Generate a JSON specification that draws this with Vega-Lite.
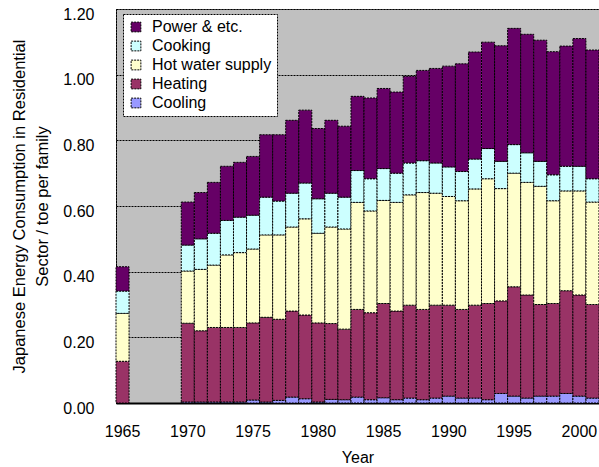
{
  "$schema": "https://vega.github.io/schema/vega-lite/v6.json",
  "width": 483,
  "height": 394,
  "autosize": "none",
  "padding": {"left": 116, "top": 9, "right": 0, "bottom": 64},
  "background": "white",
  "config": {
    "font": "Liberation Sans",
    "view": {"fill": "#C0C0C0", "stroke": "black", "strokeDash": [2, 1], "strokeWidth": 1},
    "axis": {"labelFont": "Liberation Sans", "titleFont": "Liberation Sans", "labelColor": "black", "titleColor": "black", "titleFontWeight": "normal"}
  },
  "data": {
    "values": [
      {"year": 1965, "cooling": 0.000, "heating": 0.127, "hotwater": 0.146, "cooking": 0.068, "power": 0.074},
      {"year": 1970, "cooling": 0.003, "heating": 0.240, "hotwater": 0.159, "cooking": 0.079, "power": 0.131},
      {"year": 1971, "cooling": 0.003, "heating": 0.217, "hotwater": 0.187, "cooking": 0.093, "power": 0.141},
      {"year": 1972, "cooling": 0.003, "heating": 0.227, "hotwater": 0.190, "cooking": 0.097, "power": 0.155},
      {"year": 1973, "cooling": 0.003, "heating": 0.227, "hotwater": 0.221, "cooking": 0.105, "power": 0.165},
      {"year": 1974, "cooling": 0.003, "heating": 0.227, "hotwater": 0.228, "cooking": 0.108, "power": 0.167},
      {"year": 1975, "cooling": 0.009, "heating": 0.235, "hotwater": 0.225, "cooking": 0.103, "power": 0.179},
      {"year": 1976, "cooling": 0.003, "heating": 0.258, "hotwater": 0.251, "cooking": 0.115, "power": 0.190},
      {"year": 1977, "cooling": 0.008, "heating": 0.247, "hotwater": 0.257, "cooking": 0.103, "power": 0.202},
      {"year": 1978, "cooling": 0.018, "heating": 0.262, "hotwater": 0.256, "cooking": 0.103, "power": 0.222},
      {"year": 1979, "cooling": 0.013, "heating": 0.255, "hotwater": 0.293, "cooking": 0.109, "power": 0.222},
      {"year": 1980, "cooling": 0.003, "heating": 0.241, "hotwater": 0.273, "cooking": 0.105, "power": 0.214},
      {"year": 1981, "cooling": 0.011, "heating": 0.231, "hotwater": 0.294, "cooking": 0.103, "power": 0.222},
      {"year": 1982, "cooling": 0.010, "heating": 0.215, "hotwater": 0.305, "cooking": 0.097, "power": 0.216},
      {"year": 1983, "cooling": 0.018, "heating": 0.267, "hotwater": 0.326, "cooking": 0.097, "power": 0.226},
      {"year": 1984, "cooling": 0.010, "heating": 0.265, "hotwater": 0.310, "cooking": 0.098, "power": 0.246},
      {"year": 1985, "cooling": 0.016, "heating": 0.287, "hotwater": 0.314, "cooking": 0.097, "power": 0.244},
      {"year": 1986, "cooling": 0.010, "heating": 0.270, "hotwater": 0.331, "cooking": 0.089, "power": 0.247},
      {"year": 1987, "cooling": 0.015, "heating": 0.283, "hotwater": 0.336, "cooking": 0.097, "power": 0.264},
      {"year": 1988, "cooling": 0.010, "heating": 0.275, "hotwater": 0.356, "cooking": 0.097, "power": 0.275},
      {"year": 1989, "cooling": 0.015, "heating": 0.283, "hotwater": 0.341, "cooking": 0.092, "power": 0.288},
      {"year": 1990, "cooling": 0.021, "heating": 0.277, "hotwater": 0.331, "cooking": 0.090, "power": 0.307},
      {"year": 1991, "cooling": 0.015, "heating": 0.270, "hotwater": 0.331, "cooking": 0.089, "power": 0.328},
      {"year": 1992, "cooling": 0.015, "heating": 0.283, "hotwater": 0.354, "cooking": 0.091, "power": 0.326},
      {"year": 1993, "cooling": 0.010, "heating": 0.293, "hotwater": 0.380, "cooking": 0.092, "power": 0.324},
      {"year": 1994, "cooling": 0.029, "heating": 0.282, "hotwater": 0.342, "cooking": 0.083, "power": 0.352},
      {"year": 1995, "cooling": 0.021, "heating": 0.333, "hotwater": 0.346, "cooking": 0.087, "power": 0.354},
      {"year": 1996, "cooling": 0.015, "heating": 0.314, "hotwater": 0.343, "cooking": 0.090, "power": 0.361},
      {"year": 1997, "cooling": 0.021, "heating": 0.279, "hotwater": 0.360, "cooking": 0.076, "power": 0.369},
      {"year": 1998, "cooling": 0.021, "heating": 0.282, "hotwater": 0.313, "cooking": 0.079, "power": 0.375},
      {"year": 1999, "cooling": 0.029, "heating": 0.313, "hotwater": 0.304, "cooking": 0.075, "power": 0.366},
      {"year": 2000, "cooling": 0.021, "heating": 0.308, "hotwater": 0.317, "cooking": 0.075, "power": 0.389},
      {"year": 2001, "cooling": 0.015, "heating": 0.285, "hotwater": 0.312, "cooking": 0.071, "power": 0.392}
    ]
  },
  "transform": [
    {"fold": ["cooling", "heating", "hotwater", "cooking", "power"], "as": ["use", "value"]},
    {"calculate": "indexof(['cooling','heating','hotwater','cooking','power'], datum.use)", "as": "stackorder"}
  ],
  "mark": {"type": "bar", "stroke": "black", "strokeWidth": 1, "strokeDash": [2, 1]},
  "encoding": {
    "x": {
      "field": "year", "type": "ordinal",
      "scale": {"domain": [1965,1966,1967,1968,1969,1970,1971,1972,1973,1974,1975,1976,1977,1978,1979,1980,1981,1982,1983,1984,1985,1986,1987,1988,1989,1990,1991,1992,1993,1994,1995,1996,1997,1998,1999,2000,2001], "paddingInner": 0, "paddingOuter": 0},
      "axis": {"title": "Year", "labelAngle": 0, "labelExpr": "datum.value % 5 == 0 ? datum.label : ''", "ticks": false, "labelFontSize": 16, "labelPadding": 20, "titleFontSize": 16, "titlePadding": 10, "domainColor": "black", "domainWidth": 2, "grid": false}
    },
    "y": {
      "field": "value", "type": "quantitative", "stack": "zero",
      "scale": {"domain": [0, 1.2], "nice": false},
      "axis": {"title": ["Japanese Energy Consumption in Residential", "Sector / toe per family"], "values": [0, 0.2, 0.4, 0.6, 0.8, 1.0, 1.2], "format": ".2f", "ticks": false, "labelFontSize": 16, "labelPadding": 22, "labelOffset": 5, "titleFontSize": 16.5, "titleLineHeight": 23, "titlePadding": 12, "domainColor": "black", "domainDash": [2, 1], "grid": true, "gridColor": "black", "gridDash": [2, 1], "gridWidth": 1, "gridOpacity": 1}
    },
    "color": {
      "field": "use", "type": "nominal",
      "scale": {"domain": ["power", "cooking", "hotwater", "heating", "cooling"], "range": ["#660066", "#CCFFFF", "#FFFFCC", "#993366", "#9999FF"]},
      "legend": {"title": null, "orient": "none", "legendX": 7, "legendY": 5, "fillColor": "white", "strokeColor": "black", "padding": 5, "labelFontSize": 16, "labelFont": "Liberation Sans", "labelColor": "black", "labelExpr": "{'power': 'Power & etc.', 'cooking': 'Cooking', 'hotwater': 'Hot water supply', 'heating': 'Heating', 'cooling': 'Cooling'}[datum.value]", "symbolType": "square", "symbolSize": 95, "symbolStrokeColor": "black", "symbolStrokeWidth": 1, "symbolDash": [2, 1], "symbolOpacity": 1, "rowPadding": 3, "labelOffset": 8, "encode": {"legend": {"update": {"strokeDash": {"value": [2, 1]}}}}}
    },
    "order": {"field": "stackorder", "type": "quantitative", "sort": "ascending"}
  }
}
